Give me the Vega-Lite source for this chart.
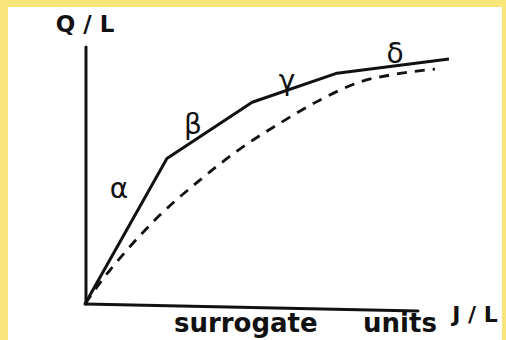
{
  "$schema": "https://vega.github.io/schema/vega-lite/v6.json",
  "width": 494,
  "height": 333,
  "autosize": {"type": "none"},
  "padding": {"left": 8, "top": 7, "right": 4, "bottom": 0},
  "background": "#f8e57a",
  "config": {"view": {"fill": "white", "stroke": null}},
  "datasets": {
    "curves": [
      {"series": "piecewise", "order": 0, "x": 0, "y": 0},
      {"series": "piecewise", "order": 1, "x": 2.46, "y": 5.66},
      {"series": "piecewise", "order": 2, "x": 5.02, "y": 7.85},
      {"series": "piecewise", "order": 3, "x": 7.57, "y": 8.98},
      {"series": "piecewise", "order": 4, "x": 10.93, "y": 9.53},
      {"series": "smooth", "order": 0, "x": 0, "y": 0},
      {"series": "smooth", "order": 1, "x": 0.45, "y": 0.82},
      {"series": "smooth", "order": 2, "x": 1.26, "y": 2.1},
      {"series": "smooth", "order": 3, "x": 2.25, "y": 3.46},
      {"series": "smooth", "order": 4, "x": 3.45, "y": 4.82},
      {"series": "smooth", "order": 5, "x": 4.65, "y": 6.03},
      {"series": "smooth", "order": 6, "x": 5.86, "y": 7.04},
      {"series": "smooth", "order": 7, "x": 7.06, "y": 7.94},
      {"series": "smooth", "order": 8, "x": 8.26, "y": 8.64},
      {"series": "smooth", "order": 9, "x": 9.46, "y": 8.97},
      {"series": "smooth", "order": 10, "x": 10.51, "y": 9.14}
    ],
    "axes": [
      {"axis": "y", "x": 0.03, "y": 0, "x2": 0.03, "y2": 10.0},
      {"axis": "x", "x": 0, "y": 0, "x2": 10.0, "y2": -0.27}
    ],
    "labels": [
      {"kind": "greek", "text": "α", "x": 1.02, "y": 4.44},
      {"kind": "greek", "text": "β", "x": 3.24, "y": 6.93},
      {"kind": "greek", "text": "γ", "x": 6.07, "y": 8.64},
      {"kind": "greek", "text": "δ", "x": 9.31, "y": 9.69},
      {"kind": "ytitle", "text": "Q / L", "x": 0, "y": 10.86},
      {"kind": "xtitle", "text": "J / L", "x": 11.71, "y": -0.43},
      {"kind": "units", "text": "surrogate", "x": 4.83, "y": -1.1},
      {"kind": "units", "text": "units", "x": 9.46, "y": -1.1}
    ]
  },
  "encoding": {
    "x": {"field": "x", "type": "quantitative", "scale": {"domain": [-2.312, 12.523], "nice": false, "zero": false}, "axis": null},
    "y": {"field": "y", "type": "quantitative", "scale": {"domain": [-1.401, 11.556], "nice": false, "zero": false}, "axis": null}
  },
  "layer": [
    {
      "data": {"name": "axes"},
      "mark": {"type": "rule", "color": "#111111", "strokeWidth": 3, "strokeCap": "round"},
      "encoding": {
        "x2": {"field": "x2"},
        "y2": {"field": "y2"}
      }
    },
    {
      "data": {"name": "curves"},
      "transform": [{"filter": "datum.series === 'piecewise'"}],
      "mark": {"type": "line", "color": "#111111", "strokeWidth": 3, "strokeJoin": "round"},
      "encoding": {"order": {"field": "order", "type": "quantitative"}}
    },
    {
      "data": {"name": "curves"},
      "transform": [{"filter": "datum.series === 'smooth'"}],
      "mark": {"type": "line", "color": "#111111", "strokeWidth": 2.8, "strokeDash": [10, 8], "interpolate": "monotone"},
      "encoding": {"order": {"field": "order", "type": "quantitative"}}
    },
    {
      "data": {"name": "labels"},
      "transform": [{"filter": "datum.kind === 'greek'"}],
      "mark": {"type": "text", "font": "DejaVu Sans", "fontSize": 28, "color": "#111111", "align": "center", "baseline": "middle"},
      "encoding": {"text": {"field": "text"}}
    },
    {
      "data": {"name": "labels"},
      "transform": [{"filter": "datum.kind === 'ytitle'"}],
      "mark": {"type": "text", "font": "DejaVu Sans", "fontWeight": "bold", "fontSize": 23, "color": "#111111", "align": "center", "baseline": "middle"},
      "encoding": {"text": {"field": "text"}}
    },
    {
      "data": {"name": "labels"},
      "transform": [{"filter": "datum.kind === 'xtitle'"}],
      "mark": {"type": "text", "font": "DejaVu Sans", "fontWeight": "bold", "fontSize": 22, "color": "#111111", "align": "center", "baseline": "middle"},
      "encoding": {"text": {"field": "text"}}
    },
    {
      "data": {"name": "labels"},
      "transform": [{"filter": "datum.kind === 'units'"}],
      "mark": {"type": "text", "font": "DejaVu Sans", "fontWeight": "bold", "fontSize": 26, "color": "#111111", "align": "center", "baseline": "alphabetic"},
      "encoding": {"text": {"field": "text"}}
    }
  ]
}
